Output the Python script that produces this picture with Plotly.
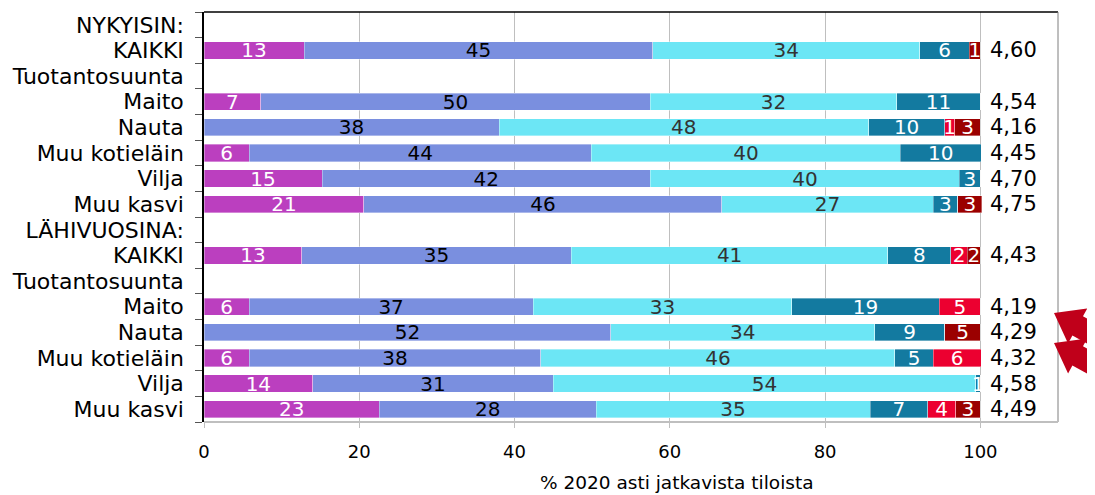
import math
import plotly.graph_objects as go

# ---- data ----
categories = ["NYKYISIN:", "KAIKKI", "Tuotantosuunta", "Maito", "Nauta",
              "Muu kotieläin", "Vilja", "Muu kasvi",
              "LÄHIVUOSINA:", "KAIKKI", "Tuotantosuunta", "Maito", "Nauta",
              "Muu kotieläin", "Vilja", "Muu kasvi"]

s6 = [None, 12.9, None, 7.3, 0.0, 5.8, 15.2, 20.6, None, 12.6, None, 5.8, 0.0, 5.8, 14.0, 22.6]
s5 = [None, 44.9, None, 50.2, 38.0, 44.1, 42.3, 46.1, None, 34.7, None, 36.6, 52.4, 37.6, 31.0, 27.9]
s4 = [None, 34.4, None, 31.7, 47.6, 39.8, 39.8, 27.2, None, 40.8, None, 33.3, 34.0, 45.6, 54.4, 35.3]
s3 = [None, 6.4, None, 10.8, 9.8, 10.4, 2.7, 3.2, None, 8.1, None, 19.0, 9.0, 4.9, 0.6, 7.4]
s2 = [None, 0.0, None, 0.0, 1.3, 0.0, 0.0, 0.0, None, 2.1, None, 5.3, 0.0, 6.2, 0.0, 3.6]
s1 = [None, 1.4, None, 0.0, 3.3, 0.0, 0.0, 3.1, None, 1.7, None, 0.0, 4.6, 0.0, 0.0, 3.2]

means = [None, "4,60", None, "4,54", "4,16", "4,45", "4,70", "4,75",
         None, "4,43", None, "4,19", "4,29", "4,32", "4,58", "4,49"]

series_names = ["6", "5", "4", "3", "2", "1"]
series_values = [s6, s5, s4, s3, s2, s1]
series_colors = ["#BB3FBF", "#7A8FDF", "#6CE6F5", "#137AA0", "#EC0030", "#9B0000"]
text_colors = ["white", "black", "#333333", "white", "white", "white"]

x_ticks = [0, 20, 40, 60, 80, 100]
x_title = "% 2020 asti jatkavista tiloista"

# ---- layout geometry (pixels); page has 8px body margin ----
OFF = 8
W, H = 1087, 487
PLOT_L, PLOT_T, PLOT_R, PLOT_B = 204, 12, 1058, 422   # in page pixels
L = PLOT_L - OFF
T = PLOT_T - OFF
R = W - (PLOT_R - OFF)
B = H - (PLOT_B - OFF)
PW, PH = PLOT_R - PLOT_L, PLOT_B - PLOT_T

def px2paper(px, py):
    return (px - PLOT_L) / PW, (PLOT_B - py) / PH

ypos = list(range(len(categories)))

fig = go.Figure()

def lab(v):
    if v is None or v <= 0:
        return ""
    return str(int(v + 0.5))

for name, vals, col, tcol in zip(series_names, series_values, series_colors, text_colors):
    fig.add_trace(go.Bar(
        y=ypos, x=vals, name=name, orientation="h",
        marker=dict(color=col, line=dict(color="rgba(255,255,255,0.6)", width=0.6)),
        text=[lab(v) for v in vals],
        textposition="inside", insidetextanchor="middle", textangle=0,
        constraintext="none",
        textfont=dict(color=tcol, size=20, family="DejaVu Sans"),
        hoverinfo="skip", showlegend=False,
    ))

# mean values at right
for yp, m in zip(ypos, means):
    if m is None:
        continue
    fig.add_annotation(x=101.0, y=yp, xref="x", yref="y", text=m, showarrow=False,
                       xanchor="left", yanchor="middle",
                       font=dict(size=21, color="black", family="DejaVu Sans"))

# x-axis title as annotation
tx, ty = px2paper(677, 483)
fig.add_annotation(x=tx, y=ty, xref="paper", yref="paper",
                   text=x_title, showarrow=False, xanchor="center", yanchor="middle",
                   font=dict(size=18.5, color="black", family="DejaVu Sans"))

# frame lines
fig.add_shape(type="line", xref="paper", yref="paper", x0=0, x1=1, y0=1, y1=1,
              line=dict(color="black", width=1.5))
fig.add_shape(type="line", xref="paper", yref="paper", x0=1, x1=1, y0=0, y1=1,
              line=dict(color="#7F7F7F", width=1))
fig.add_shape(type="line", xref="paper", yref="paper", x0=0, x1=1, y0=0, y1=0,
              line=dict(color="#BFBFBF", width=2))

# decorative arrows
def arrow_path(tip, dx, dy, length=80, head_len=27, head_hw=20, shaft_hw=11):
    n = math.hypot(dx, dy)
    ux, uy = dx / n, dy / n
    pxv, pyv = -uy, ux
    tx_, ty_ = tip
    bx, by = tx_ + ux * head_len, ty_ + uy * head_len
    ex, ey = tx_ + ux * length, ty_ + uy * length
    pts = [(tx_, ty_),
           (bx + pxv * head_hw, by + pyv * head_hw),
           (bx + pxv * shaft_hw, by + pyv * shaft_hw),
           (ex + pxv * shaft_hw, ey + pyv * shaft_hw),
           (ex - pxv * shaft_hw, ey - pyv * shaft_hw),
           (bx - pxv * shaft_hw, by - pyv * shaft_hw),
           (bx - pxv * head_hw, by - pyv * head_hw)]
    s = ""
    for i, (x, y) in enumerate(pts):
        px_, py_ = px2paper(x, y)
        s += ("M" if i == 0 else "L") + f"{px_:.5f},{py_:.5f} "
    return s + "Z"

for tip in [(1054, 313), (1054, 343)]:
    fig.add_shape(type="path", xref="paper", yref="paper", path=arrow_path(tip, 42, 23),
                  fillcolor="#C0001A", line=dict(width=0), layer="above")

fig.update_layout(
    width=W, height=H, barmode="stack", bargap=0.33,
    margin=dict(l=L, r=R, t=T, b=B, pad=0),
    paper_bgcolor="white", plot_bgcolor="white",
    font=dict(family="DejaVu Sans", color="black", size=18),
    uniformtext=dict(minsize=20, mode="show"),
    xaxis=dict(range=[0, 110], tickvals=x_ticks, ticktext=[str(t) for t in x_ticks],
               showgrid=True, gridcolor="#BFBFBF", gridwidth=1, zeroline=False,
               showline=False, ticks="outside", ticklen=5, tickcolor="#BFBFBF",
               tickfont=dict(size=18, family="DejaVu Sans"),
               ticklabelstandoff=8),
    xaxis2=dict(range=[0, 110], overlaying="x", side="top", tickvals=x_ticks[1:],
                ticks="outside", ticklen=7, tickcolor="#BFBFBF", showticklabels=False,
                showgrid=False, zeroline=False, showline=False),
    yaxis=dict(range=[len(categories) - 0.5, -0.5], tickvals=ypos, ticktext=categories,
               showgrid=False, zeroline=False, showline=True, linecolor="black", linewidth=1.5,
               ticks="", tickfont=dict(size=22, family="DejaVu Sans"),
               ticklabelstandoff=14,
               minor=dict(tickvals=[i - 0.5 for i in range(len(categories) + 1)],
                          ticks="outside", ticklen=7, tickcolor="#555555", tickwidth=1,
                          showgrid=False)),
)

fig.write_html("out.html")
